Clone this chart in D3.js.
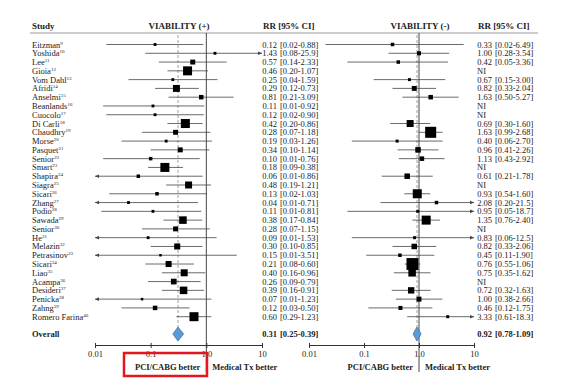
<!DOCTYPE html>
<html>
<head>
<meta charset="utf-8">
<script src="https://cdn.jsdelivr.net/npm/d3@7"></script>
<style>
  body { margin: 0; background: #fff; }
  text { font-family: "Liberation Serif", "DejaVu Serif", serif; fill: #222; }
</style>
</head>
<body>
<svg id="chart" width="579" height="389"></svg>
<script>
// studies and reference numbers
var studies = ["Eitzman", "Yoshida", "Lee", "Gioia", "Vom Dahl", "Afridi", "Anselmi", "Beanlands",
  "Cuocolo", "Di Carli", "Chaudhry", "Morse", "Pasquet", "Senior", "Smart", "Shapira", "Siagra",
  "Sicari", "Zhang", "Podio", "Sawada", "Senior", "He", "Melazin", "Petrasinov", "Sicari", "Liao",
  "Acampa", "Desideri", "Penicka", "Zahng", "Romero Farina"];
var refs = [9, 10, 11, 12, 13, 14, 15, 16, 17, 18, 19, 20, 21, 22, 23, 24, 25, 26, 27, 28, 29, 30,
  31, 32, 33, 34, 35, 36, 37, 38, 39, 40];

// VIABILITY (+)
var leftRR = [0.12, 1.43, 0.57, 0.46, 0.25, 0.29, 0.81, 0.11, 0.12, 0.42, 0.28, 0.19, 0.34, 0.10,
  0.18, 0.06, 0.48, 0.13, 0.04, 0.11, 0.38, 0.28, 0.09, 0.30, 0.15, 0.21, 0.40, 0.26, 0.39, 0.07,
  0.12, 0.60];
var leftLo = [0.016, 0.08, 0.14, 0.20, 0.04, 0.12, 0.21, 0.014, 0.016, 0.20, 0.07, 0.03, 0.10, 0.014,
  0.09, 0.006, 0.19, 0.018, 0.006, 0.013, 0.17, 0.07, 0.006, 0.10, 0.006, 0.08, 0.16, 0.09, 0.16,
  0.006, 0.03, 0.29];
var leftHi = [0.88, 25.9, 2.33, 1.07, 1.59, 0.73, 3.09, 0.92, 0.90, 0.86, 1.18, 1.26, 1.14, 0.76,
  0.38, 0.86, 1.21, 1.03, 0.71, 0.81, 0.84, 1.15, 1.53, 0.85, 3.51, 0.60, 0.96, 0.79, 0.91, 1.23,
  0.50, 1.23];
var leftW = [2, 2, 6, 20, 2, 12, 5, 2, 2, 20, 6, 2, 6, 3, 20, 3, 12, 3, 2, 2, 14, 6, 2, 9, 1.5, 9,
  12, 8, 14, 1.5, 5, 20];
var leftOverall = [0.31, 0.25, 0.39];

// VIABILITY (-), null = NI
var rightRR = [0.33, 1.00, 0.42, null, 0.67, 0.82, 1.63, null, null, 0.69, 1.63, 0.40, 0.96, 1.13,
  null, 0.61, null, 0.93, 2.08, 0.95, 1.35, null, 0.83, 0.82, 0.45, 0.76, 0.75, null, 0.72, 1.00,
  0.46, 3.33];
var rightLo = [0.02, 0.28, 0.05, null, 0.15, 0.33, 0.50, null, null, 0.30, 0.99, 0.06, 0.41, 0.43,
  null, 0.21, null, 0.54, 0.20, 0.05, 0.76, null, 0.06, 0.33, 0.11, 0.55, 0.35, null, 0.32, 0.38,
  0.12, 0.61];
var rightHi = [6.49, 3.54, 3.36, null, 3.00, 2.04, 5.27, null, null, 1.60, 2.68, 2.70, 2.26, 2.92,
  null, 1.78, null, 1.60, 21.5, 18.7, 2.40, null, 12.5, 2.06, 1.90, 1.06, 1.62, null, 1.63, 2.66,
  1.75, 18.3];
var rightW = [3, 4, 3, null, 2.2, 6, 5, null, null, 12, 30, 2.2, 7.5, 5, null, 7.5, null, 20, 3,
  2.2, 20, null, 2.2, 7.5, 3, 35, 14, null, 10, 6, 4, 2.2];
var rightOverall = [0.92, 0.78, 1.09];

var tickVals = [0.01, 0.1, 1, 10];
var tickLabels = ["0.01", "0.1", "1.0", "10"];

var svg = d3.select('#chart');

var y = d3.scaleLinear().domain([0, studies.length - 1]).range([44.5, 316.7]);
var yOverall = 334;
var yAxis = 345;
var size = d3.scaleSqrt().domain([0, 20]).range([0, 9]);

function fmt(v) { return v >= 10 ? v.toFixed(1) : v.toFixed(2); }

// header
svg.append('line').attr('x1', 30).attr('x2', 538).attr('y1', 33).attr('y2', 33)
  .attr('stroke', '#999').attr('stroke-width', 1);
svg.append('text').attr('x', 32).attr('y', 29).attr('font-size', 9).attr('font-weight', 'bold')
  .text('Study');

// study names with superscripts
var names = svg.append('g').attr('font-size', 8.5);
studies.forEach(function(s, i) {
  var t = names.append('text').attr('x', 32).attr('y', y(i) + 3);
  t.append('tspan').text(s);
  t.append('tspan').attr('font-size', 5).attr('dy', -3).text(refs[i]);
});
svg.append('text').attr('x', 32).attr('y', yOverall + 3).attr('font-size', 8.5)
  .attr('font-weight', 'bold').text('Overall');

function panel(opts) {
  var x = d3.scaleLog().domain([0.01, 10]).range(opts.range);
  var g = svg.append('g');

  g.append('text').attr('x', opts.titleX).attr('y', 29).attr('text-anchor', 'middle')
    .attr('font-size', 9).attr('font-weight', 'bold').text(opts.title);
  g.append('text').attr('x', opts.numX - 14).attr('y', 29)
    .attr('font-size', 9).attr('font-weight', 'bold').text('RR [95% CI]');

  // reference lines
  g.append('line').attr('x1', x(opts.overall[0])).attr('x2', x(opts.overall[0]))
    .attr('y1', 35).attr('y2', yOverall - 7)
    .attr('stroke', '#888').attr('stroke-width', 0.8).attr('stroke-dasharray', '3,2');
  g.append('line').attr('x1', x(1)).attr('x2', x(1)).attr('y1', 33).attr('y2', 372)
    .attr('stroke', '#333').attr('stroke-width', 0.9);

  var dom = x.domain();
  opts.rr.forEach(function(r, i) {
    var yy = y(i);
    if (r === null) {
      g.append('text').attr('x', opts.numX - 15).attr('y', yy + 3).attr('font-size', 8.5).text('NI');
      return;
    }
    var lo = opts.lo[i], hi = opts.hi[i];
    var x0 = x(Math.max(lo, dom[0])), x1 = x(Math.min(hi, dom[1]));
    g.append('line').attr('x1', x0).attr('x2', x1).attr('y1', yy).attr('y2', yy)
      .attr('stroke', '#444').attr('stroke-width', 0.8);
    if (lo < dom[0]) {
      g.append('path').attr('d', 'M' + (x0) + ',' + yy + 'l4,-1.8v3.6z').attr('fill', '#444');
    }
    if (hi > dom[1]) {
      g.append('path').attr('d', 'M' + (x1) + ',' + yy + 'l-4,-1.8v3.6z').attr('fill', '#444');
    }
    var s = size(opts.w[i]);
    g.append('rect').attr('x', x(r) - s / 2).attr('y', yy - s / 2)
      .attr('width', s).attr('height', s).attr('fill', '#000');

    g.append('text').attr('x', opts.numX).attr('y', yy + 3).attr('text-anchor', 'end')
      .attr('font-size', 8.5).text(fmt(r));
    g.append('text').attr('x', opts.numX + 3).attr('y', yy + 3)
      .attr('font-size', 8.5).text('[' + fmt(lo) + '-' + fmt(hi) + ']');
  });

  // overall diamond
  var o = opts.overall;
  g.append('path')
    .attr('d', 'M' + x(o[1]) + ',' + yOverall + 'L' + x(o[0]) + ',' + (yOverall - 7) +
      'L' + x(o[2]) + ',' + yOverall + 'L' + x(o[0]) + ',' + (yOverall + 7) + 'Z')
    .attr('fill', '#5b9bd5').attr('stroke', '#3f73ad').attr('stroke-width', 0.8);
  g.append('text').attr('x', opts.numX).attr('y', yOverall + 3).attr('text-anchor', 'end')
    .attr('font-size', 8.5).attr('font-weight', 'bold').text(fmt(o[0]));
  g.append('text').attr('x', opts.numX + 3).attr('y', yOverall + 3)
    .attr('font-size', 8.5).attr('font-weight', 'bold')
    .text('[' + fmt(o[1]) + '-' + fmt(o[2]) + ']');

  // axis
  var axis = d3.axisBottom(x).tickValues(tickVals)
    .tickFormat(function(d, i) { return tickLabels[i]; })
    .tickSizeInner(3).tickSizeOuter(0).tickPadding(3);
  var ag = g.append('g').attr('transform', 'translate(0,' + yAxis + ')').call(axis);
  ag.select('.domain').attr('stroke', '#333');
  ag.selectAll('.tick line').attr('stroke', '#333').attr('y1', -2);
  ag.selectAll('.tick text').attr('font-family', '"Liberation Serif", serif')
    .attr('font-size', 8.5).attr('fill', '#333');

  g.append('text').attr('x', x(1) - 6).attr('y', 370).attr('text-anchor', 'end')
    .attr('font-size', 8.5).attr('font-weight', 'bold').text('PCI/CABG better');
  g.append('text').attr('x', x(1) + 6).attr('y', 370)
    .attr('font-size', 8.5).attr('font-weight', 'bold').text('Medical Tx better');
  return x;
}

panel({ range: [95, 262], title: 'VIABILITY (+)', titleX: 179, numX: 277,
  rr: leftRR, lo: leftLo, hi: leftHi, w: leftW, overall: leftOverall });
panel({ range: [309, 474], title: 'VIABILITY (-)', titleX: 420, numX: 492,
  rr: rightRR, lo: rightLo, hi: rightHi, w: rightW, overall: rightOverall });

// highlight box
svg.append('rect').attr('x', 124).attr('y', 353).attr('width', 83).attr('height', 23)
  .attr('fill', 'none').attr('stroke', '#e3161d').attr('stroke-width', 2.5);
</script>
</body>
</html>
